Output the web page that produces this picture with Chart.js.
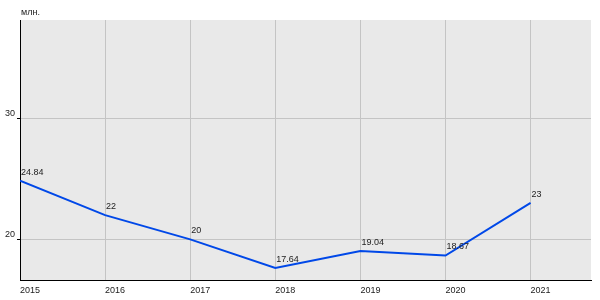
<!DOCTYPE html>
<html>
<head>
<meta charset="utf-8">
<script src="https://cdn.jsdelivr.net/npm/chart.js@4"></script>
<style>
  html, body { margin: 0; padding: 0; background: #fff; }
  #wrap { width: 600px; height: 300px; }
</style>
</head>
<body>
<div id="wrap"><canvas id="lineChart"></canvas></div>
<script>
const years = [2015, 2016, 2017, 2018, 2019, 2020, 2021];
const values = [24.84, 22, 20, 17.64, 19.04, 18.67, 23];
const valueLabels = ['24.84', '22', '20', '17.64', '19.04', '18.67', '23'];
const yTicks = [20, 30];
const unitLabel = 'млн.';

const font = { family: 'Arial, "Liberation Sans", sans-serif', size: 9 };

// grey plot background + unit caption + point labels
const decorPlugin = {
    id: 'decor',
    beforeDraw(chart) {
        const { ctx, chartArea } = chart;
        ctx.save();
        ctx.fillStyle = '#e9e9e9';
        ctx.fillRect(chartArea.left, chartArea.top, chartArea.right - chartArea.left, chartArea.bottom - chartArea.top);
        ctx.restore();
    },
    afterDatasetsDraw(chart) {
        const { ctx } = chart;
        const meta = chart.getDatasetMeta(0);
        ctx.save();
        ctx.font = '9px ' + font.family;
        ctx.fillStyle = '#222';
        ctx.textAlign = 'left';
        ctx.textBaseline = 'alphabetic';
        meta.data.forEach((pt, i) => {
            ctx.fillText(valueLabels[i], pt.x + 1, pt.y - 6);
        });
        ctx.fillText(unitLabel, 21, 15);
        ctx.restore();
    }
};

new Chart(document.getElementById('lineChart'), {
    type: 'line',
    data: {
        datasets: [{
            data: years.map((y, i) => ({ x: y, y: values[i] })),
            borderColor: '#0048e8',
            borderWidth: 2,
            pointRadius: 0,
            tension: 0
        }]
    },
    plugins: [decorPlugin],
    options: {
        responsive: true,
        maintainAspectRatio: false,
        animation: false,
        layout: { padding: { top: 20, right: 9, left: 0, bottom: 0 } },
        plugins: {
            legend: { display: false },
            tooltip: { enabled: false }
        },
        scales: {
            x: {
                type: 'linear',
                min: 2015,
                max: 2021.71,
                afterBuildTicks: (axis) => { axis.ticks = years.map(v => ({ value: v })); },
                afterFit: (axis) => { axis.height = 20; },
                grid: { color: '#c4c4c4', drawTicks: false },
                border: { color: '#000', width: 1 },
                ticks: {
                    align: 'start',
                    padding: 5,
                    color: '#222',
                    font,
                    callback: v => String(v)
                }
            },
            y: {
                min: 16.65,
                max: 38.08,
                afterBuildTicks: (axis) => { axis.ticks = yTicks.map(v => ({ value: v })); },
                afterFit: (axis) => { axis.width = 20; },
                grid: { color: '#c4c4c4', tickColor: '#000', tickLength: 3 },
                border: { color: '#000', width: 1 },
                ticks: {
                    align: 'end',
                    padding: 2,
                    color: '#222',
                    font
                }
            }
        }
    }
});
</script>
</body>
</html>
